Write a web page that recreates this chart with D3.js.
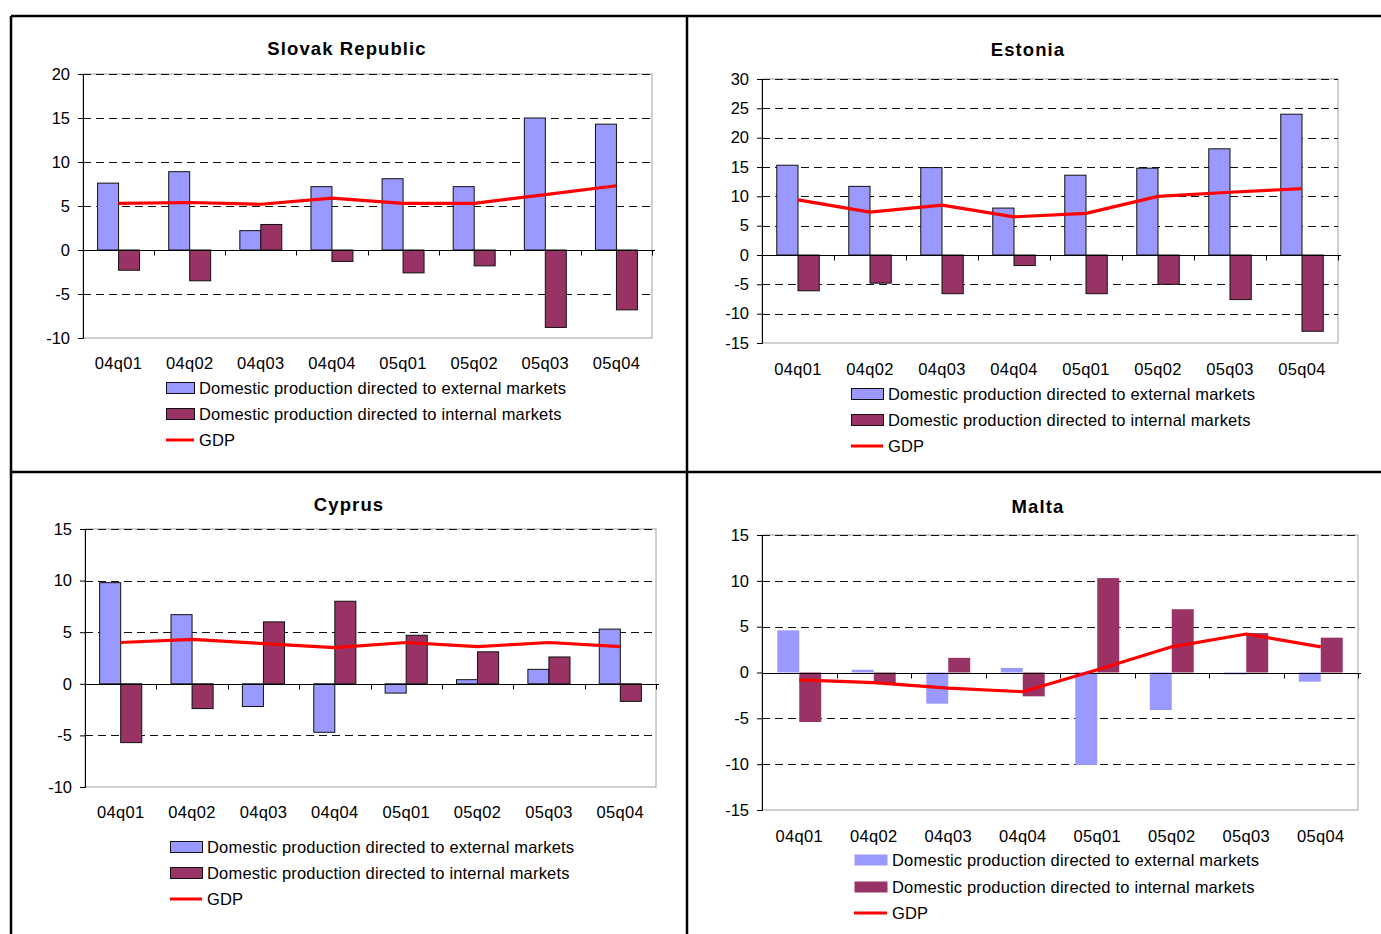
<!DOCTYPE html>
<html>
<head>
<meta charset="utf-8">
<script src="https://cdn.jsdelivr.net/npm/d3@7"></script>
<style>
  html, body { margin: 0; padding: 0; background: #fff; }
  svg { display: block; font-family: "Liberation Sans", Arial, sans-serif; }
</style>
</head>
<body>
<svg id="chart" width="1381" height="934"></svg>
<script>
// Quarterly periods shared by all four panels
const categories = ["04q01", "04q02", "04q03", "04q04", "05q01", "05q02", "05q03", "05q04"];

const seriesNames = [
  "Domestic production directed to external markets",
  "Domestic production directed to internal markets",
  "GDP"
];

// Slovak Republic
const slovakExternal = [7.6, 8.9, 2.2, 7.2, 8.1, 7.2, 15.0, 14.3];
const slovakInternal = [-2.3, -3.5, 2.9, -1.3, -2.6, -1.8, -8.8, -6.8];
const slovakGDP      = [5.3, 5.4, 5.2, 5.9, 5.3, 5.3, 6.3, 7.3];
const slovakTicks    = [-10, -5, 0, 5, 10, 15, 20];

// Estonia
const estoniaExternal = [15.3, 11.7, 14.9, 8.0, 13.6, 14.8, 18.1, 24.0];
const estoniaInternal = [-6.1, -4.8, -6.6, -1.8, -6.6, -5.0, -7.6, -13.0];
const estoniaGDP      = [9.4, 7.3, 8.5, 6.5, 7.1, 10.0, 10.7, 11.3];
const estoniaTicks    = [-15, -10, -5, 0, 5, 10, 15, 20, 25, 30];

// Cyprus
const cyprusExternal = [9.8, 6.7, -2.2, -4.7, -0.9, 0.4, 1.4, 5.3];
const cyprusInternal = [-5.7, -2.4, 6.0, 8.0, 4.7, 3.1, 2.6, -1.7];
const cyprusGDP      = [4.0, 4.3, 3.9, 3.5, 4.0, 3.6, 4.0, 3.6];
const cyprusTicks    = [-10, -5, 0, 5, 10, 15];

// Malta
const maltaExternal = [4.6, 0.3, -3.4, 0.5, -10.1, -4.1, -0.2, -1.0];
const maltaInternal = [-5.4, -1.2, 1.6, -2.6, 10.3, 6.9, 4.3, 3.8];
const maltaGDP      = [-0.8, -1.1, -1.7, -2.1, 0.3, 2.8, 4.2, 2.8];
const maltaTicks    = [-15, -10, -5, 0, 5, 10, 15];

const colors = { external: "#9999ff", internal: "#993366", gdp: "#ff0000" };

const panels = [
  { title: "Slovak Republic", ext: slovakExternal, int: slovakInternal, gdp: slovakGDP, ticks: slovakTicks,
    plot: { x0: 83, x1: 652, y0: 74, y1: 338 }, titleX: 347, titleY: 55, xLabelY: 369,
    legend: { x: 166, w: 28, rows: [388, 414, 440] }, outline: true },
  { title: "Estonia", ext: estoniaExternal, int: estoniaInternal, gdp: estoniaGDP, ticks: estoniaTicks,
    plot: { x0: 762, x1: 1338, y0: 79, y1: 343 }, titleX: 1028, titleY: 56, xLabelY: 375,
    legend: { x: 851, w: 32, rows: [394, 420, 446] }, outline: true },
  { title: "Cyprus", ext: cyprusExternal, int: cyprusInternal, gdp: cyprusGDP, ticks: cyprusTicks,
    plot: { x0: 85, x1: 656, y0: 529, y1: 787 }, titleX: 349, titleY: 511, xLabelY: 818,
    legend: { x: 170, w: 32, rows: [847, 873, 899] }, outline: true },
  { title: "Malta", ext: maltaExternal, int: maltaInternal, gdp: maltaGDP, ticks: maltaTicks,
    plot: { x0: 762, x1: 1358, y0: 535, y1: 810 }, titleX: 1038, titleY: 513, xLabelY: 842,
    legend: { x: 854, w: 33, rows: [860, 887, 913] }, outline: false }
];

const svg = d3.select("#chart");

// Outer frame and quadrant dividers
const frame = svg.append("g").attr("stroke", "#000").attr("stroke-width", 2.5).attr("fill", "none");
frame.append("line").attr("x1", 11).attr("x2", 1381).attr("y1", 16).attr("y2", 16);
frame.append("line").attr("x1", 11).attr("x2", 11).attr("y1", 16).attr("y2", 934);
frame.append("line").attr("x1", 687).attr("x2", 687).attr("y1", 16).attr("y2", 934);
frame.append("line").attr("x1", 11).attr("x2", 1381).attr("y1", 472).attr("y2", 472);

const fontSize = 16.5;

function drawPanel(p) {
  const g = svg.append("g");
  const { x0, x1, y0, y1 } = p.plot;
  const ext = d3.extent(p.ticks);

  const x = d3.scaleBand().domain(categories).range([x0, x1]).paddingInner(0.41).paddingOuter(0.205);
  const xs = d3.scaleBand().domain([0, 1]).range([0, x.bandwidth()]);
  const y = d3.scaleLinear().domain(ext).range([y1, y0]);

  // plot area frame
  g.append("rect").attr("x", x0).attr("y", y0).attr("width", x1 - x0).attr("height", y1 - y0)
    .attr("fill", "#fff").attr("stroke", "#a0a0a0").attr("stroke-width", 1);

  // dashed gridlines
  g.selectAll(".grid").data(p.ticks.filter(t => t !== 0 && t !== ext[0])).join("line")
    .attr("x1", x0).attr("x2", x1)
    .attr("y1", d => Math.round(y(d)) + 0.5).attr("y2", d => Math.round(y(d)) + 0.5)
    .attr("stroke", "#111").attr("stroke-width", 1).attr("stroke-dasharray", "8,5");

  // bars
  const rows = categories.map((c, i) => ({ c, vals: [p.ext[i], p.int[i]] }));
  const grp = g.selectAll(".grp").data(rows).join("g")
    .attr("transform", d => `translate(${x(d.c)},0)`);
  grp.selectAll("rect").data(d => d.vals.map((v, k) => ({ v, k }))).join("rect")
    .attr("x", d => xs(d.k))
    .attr("width", xs.bandwidth())
    .attr("y", d => y(Math.max(0, d.v)))
    .attr("height", d => Math.abs(y(d.v) - y(0)))
    .attr("fill", d => d.k === 0 ? colors.external : colors.internal)
    .attr("stroke", p.outline ? "#111" : "none")
    .attr("stroke-width", 1);

  // value axis (left)
  const yAxis = g.append("g").attr("transform", `translate(${x0},0)`)
    .call(d3.axisLeft(y).tickValues(p.ticks).tickSize(5).tickPadding(8).tickFormat(d => String(d)));
  yAxis.select(".domain").attr("stroke", "#000");
  yAxis.selectAll(".tick line").attr("stroke", "#000");
  yAxis.selectAll("text").attr("font-size", fontSize).attr("fill", "#000")
    .attr("font-family", "Liberation Sans, Arial, sans-serif");

  // category axis along zero
  const zy = Math.round(y(0)) + 0.5;
  g.append("line").attr("x1", x0).attr("x2", x1 + 3).attr("y1", zy).attr("y2", zy)
    .attr("stroke", "#000").attr("stroke-width", 1);
  const step = x.step();
  g.selectAll(".xtick").data(d3.range(categories.length + 1)).join("line")
    .attr("x1", i => Math.round(x0 + i * step) + 0.5).attr("x2", i => Math.round(x0 + i * step) + 0.5)
    .attr("y1", zy).attr("y2", zy + 5).attr("stroke", "#000");

  // category labels below the plot
  g.selectAll(".xlab").data(categories).join("text")
    .attr("x", d => x(d) + x.bandwidth() / 2).attr("y", p.xLabelY)
    .attr("text-anchor", "middle").attr("font-size", fontSize).attr("letter-spacing", 0.3).text(d => d);

  // GDP line
  const line = d3.line().x((d, i) => x(categories[i]) + x.bandwidth() / 2).y(d => y(d));
  g.append("path").datum(p.gdp).attr("d", line)
    .attr("fill", "none").attr("stroke", colors.gdp).attr("stroke-width", 3.2)
    .attr("stroke-linejoin", "round");

  // title
  g.append("text").attr("x", p.titleX).attr("y", p.titleY).attr("text-anchor", "middle")
    .attr("font-size", 18.5).attr("font-weight", "bold").attr("letter-spacing", 1.1).text(p.title);

  // legend
  const L = p.legend;
  [colors.external, colors.internal].forEach((c, k) => {
    g.append("rect").attr("x", L.x + 0.5).attr("y", L.rows[k] - 5.5).attr("width", L.w).attr("height", 11)
      .attr("fill", c).attr("stroke", p.outline ? "#111" : "none");
  });
  g.append("line").attr("x1", L.x).attr("x2", L.x + L.w).attr("y1", L.rows[2]).attr("y2", L.rows[2])
    .attr("stroke", colors.gdp).attr("stroke-width", 3);
  seriesNames.forEach((s, k) => {
    g.append("text").attr("x", L.x + L.w + 5).attr("y", L.rows[k] + 6)
      .attr("font-size", fontSize).attr("letter-spacing", 0.18).text(s);
  });
}

panels.forEach(drawPanel);
</script>
</body>
</html>
